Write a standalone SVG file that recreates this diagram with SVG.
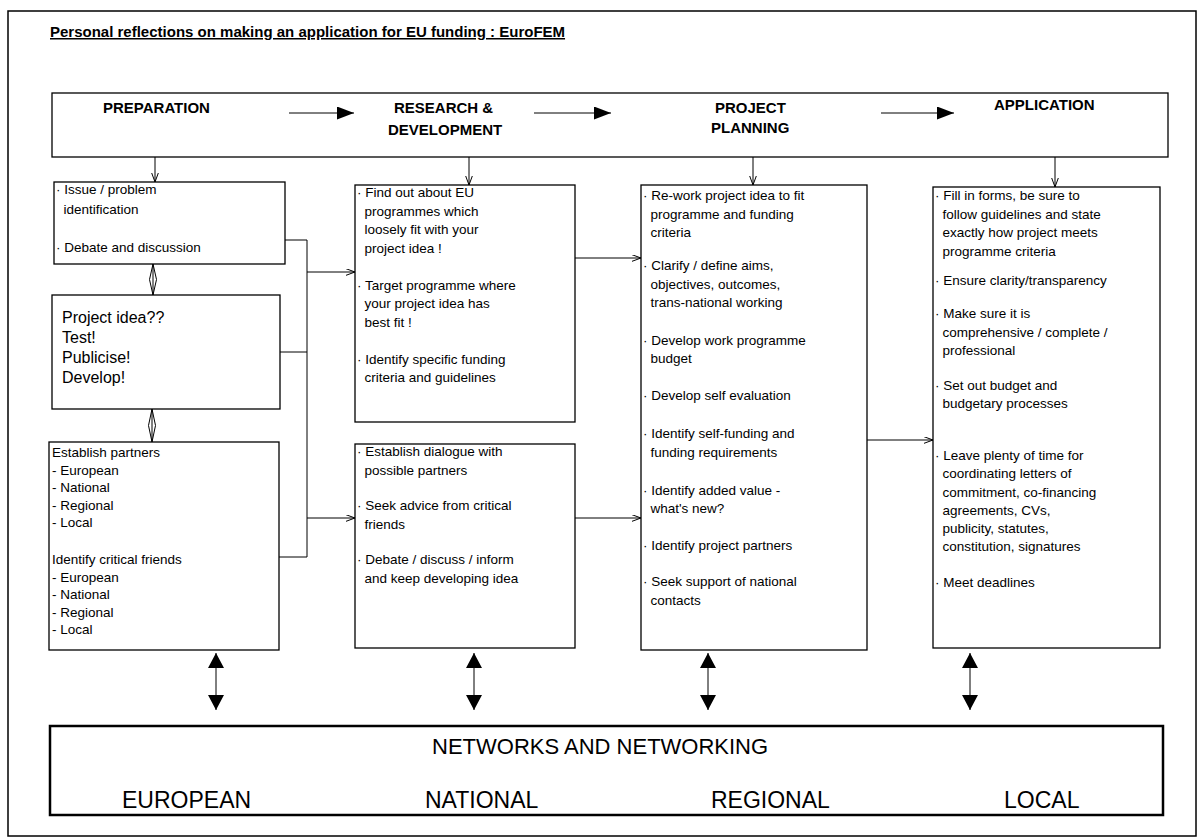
<svg xmlns="http://www.w3.org/2000/svg" width="1204" height="839" viewBox="0 0 1204 839">
<defs>
<style>
.box{fill:none;stroke:#000;stroke-width:1.3}
.t{font-family:"Liberation Sans",Arial,sans-serif;font-size:13.5px;fill:#000}
.big{font-size:16px}
.h{font-family:"Liberation Sans",Arial,sans-serif;font-size:15px;font-weight:bold;fill:#000}
.net{font-family:"Liberation Sans",Arial,sans-serif;font-size:23px;fill:#000}
.ln{stroke:#000;stroke-width:1;fill:none}
</style>
<marker id="tri" markerUnits="userSpaceOnUse" markerWidth="17" markerHeight="13" refX="17" refY="6.5" orient="auto"><path d="M0,0 L17,6.5 L0,13 z" fill="#000"/></marker>
<marker id="tri2" markerUnits="userSpaceOnUse" markerWidth="15" markerHeight="16" refX="15" refY="8" orient="auto-start-reverse"><path d="M0,0 L15,8 L0,16 z" fill="#000"/></marker>
<marker id="open" markerUnits="userSpaceOnUse" markerWidth="10" markerHeight="8" refX="9.5" refY="3.5" orient="auto"><path d="M0,0 L9.5,3.5 L0,7" fill="none" stroke="#000" stroke-width="1"/></marker>
</defs>
<rect x="8" y="11" width="1188" height="825" fill="#fff" stroke="#000" stroke-width="1.5"/>
<text id="title" class="t" x="50" y="37" style="font-size:15px;font-weight:bold;text-decoration:underline">Personal reflections on making an application for EU funding : EuroFEM</text>

<g id="header">
<rect class="box" x="52" y="93" width="1116" height="64"/>
<text class="h" x="103" y="113">PREPARATION</text>
<text class="h" x="394" y="113">RESEARCH &amp;</text>
<text class="h" x="388" y="135">DEVELOPMENT</text>
<text class="h" x="715" y="113">PROJECT</text>
<text class="h" x="711" y="133">PLANNING</text>
<text class="h" x="994" y="110">APPLICATION</text>
</g>

<g id="boxA">
<rect class="box" x="54" y="182" width="231" height="82"/>
<text class="t"><tspan x="56" y="194">· Issue / problem</tspan><tspan x="63.5" y="214">identification</tspan><tspan x="56" y="252">· Debate and discussion</tspan></text>
</g>
<g id="boxB">
<rect class="box" x="52" y="295" width="228" height="114"/>
<text class="t big"><tspan x="62" y="323">Project idea??</tspan><tspan x="62" y="343">Test!</tspan><tspan x="62" y="363">Publicise!</tspan><tspan x="62" y="383">Develop!</tspan></text>
</g>
<g id="boxC">
<rect class="box" x="49" y="442" width="230" height="208"/>
<text class="t"><tspan x="52" y="457">Establish partners</tspan><tspan x="52" y="474.5">- European</tspan><tspan x="52" y="492">- National</tspan><tspan x="52" y="509.5">- Regional</tspan><tspan x="52" y="527">- Local</tspan><tspan x="52" y="564">Identify critical friends</tspan><tspan x="52" y="581.5">- European</tspan><tspan x="52" y="599">- National</tspan><tspan x="52" y="616.5">- Regional</tspan><tspan x="52" y="634">- Local</tspan></text>
</g>
<g id="boxD">
<rect class="box" x="355" y="185" width="220" height="237"/>
<text class="t"><tspan x="357" y="197">· Find out about EU</tspan><tspan x="364.5" y="215.5">programmes which</tspan><tspan x="364.5" y="234">loosely fit with your</tspan><tspan x="364.5" y="252.5">project idea !</tspan><tspan x="357" y="289.5">· Target programme where</tspan><tspan x="364.5" y="308">your project idea has</tspan><tspan x="364.5" y="326.5">best fit !</tspan><tspan x="357" y="363.5">· Identify specific funding</tspan><tspan x="364.5" y="382">criteria and guidelines</tspan></text>
</g>
<g id="boxE">
<rect class="box" x="355" y="444" width="220" height="204"/>
<text class="t"><tspan x="357" y="456">· Establish dialogue with</tspan><tspan x="364.5" y="475">possible partners</tspan><tspan x="357" y="510">· Seek advice from critical</tspan><tspan x="364.5" y="529">friends</tspan><tspan x="357" y="564">· Debate / discuss / inform</tspan><tspan x="364.5" y="583">and keep developing idea</tspan></text>
</g>
<g id="boxF">
<rect class="box" x="641" y="185" width="226" height="465"/>
<text class="t"><tspan x="643" y="200">· Re-work project idea to fit</tspan><tspan x="650.5" y="218.5">programme and funding</tspan><tspan x="650.5" y="237">criteria</tspan><tspan x="643" y="270">· Clarify / define aims,</tspan><tspan x="650.5" y="288.5">objectives, outcomes,</tspan><tspan x="650.5" y="307">trans-national working</tspan><tspan x="643" y="345">· Develop work programme</tspan><tspan x="650.5" y="363">budget</tspan><tspan x="643" y="400">· Develop self evaluation</tspan><tspan x="643" y="438">· Identify self-funding and</tspan><tspan x="650.5" y="457">funding requirements</tspan><tspan x="643" y="495">· Identify added value -</tspan><tspan x="650.5" y="513">what's new?</tspan><tspan x="643" y="550">· Identify project partners</tspan><tspan x="643" y="586">· Seek support of national</tspan><tspan x="650.5" y="605">contacts</tspan></text>
</g>
<g id="boxG">
<rect class="box" x="933" y="187" width="227" height="461"/>
<text class="t"><tspan x="935" y="200">· Fill in forms, be sure to</tspan><tspan x="942.5" y="219">follow guidelines and state</tspan><tspan x="942.5" y="237">exactly how project meets</tspan><tspan x="942.5" y="256">programme criteria</tspan><tspan x="935" y="285">· Ensure clarity/transparency</tspan><tspan x="935" y="318">· Make sure it is</tspan><tspan x="942.5" y="337">comprehensive / complete /</tspan><tspan x="942.5" y="355">professional</tspan><tspan x="935" y="390">· Set out budget and</tspan><tspan x="942.5" y="408">budgetary processes</tspan><tspan x="935" y="460">· Leave plenty of time for</tspan><tspan x="942.5" y="478">coordinating letters of</tspan><tspan x="942.5" y="497">commitment, co-financing</tspan><tspan x="942.5" y="515">agreements, CVs,</tspan><tspan x="942.5" y="533">publicity, statutes,</tspan><tspan x="942.5" y="551">constitution, signatures</tspan><tspan x="935" y="587">· Meet deadlines</tspan></text>
</g>
<g id="networks">
<rect x="50" y="726" width="1113" height="89" fill="none" stroke="#000" stroke-width="2.5"/>
<text class="net" x="432" y="754" style="font-size:22px">NETWORKS AND NETWORKING</text>
<text class="net" x="122" y="808">EUROPEAN</text>
<text class="net" x="425" y="808">NATIONAL</text>
<text class="net" x="711" y="808">REGIONAL</text>
<text class="net" x="1004" y="808">LOCAL</text>
</g>

<g id="connectors">
<line class="ln" x1="289" y1="113" x2="354" y2="113" marker-end="url(#tri)"/>
<line class="ln" x1="534" y1="113" x2="611" y2="113" marker-end="url(#tri)"/>
<line class="ln" x1="881" y1="113" x2="954" y2="113" marker-end="url(#tri)"/>
<line class="ln" x1="155" y1="157" x2="155" y2="182" marker-end="url(#open)"/>
<line class="ln" x1="469" y1="157" x2="469" y2="185" marker-end="url(#open)"/>
<line class="ln" x1="753" y1="157" x2="753" y2="185" marker-end="url(#open)"/>
<line class="ln" x1="1055" y1="157" x2="1055" y2="187" marker-end="url(#open)"/>
<path class="ln" d="M153,264 L153,295 M153,264 L149.5,279.5 L153,295 L156.5,279.5 Z"/>
<path class="ln" d="M152,409 L152,442 M152,409 L148.5,425.5 L152,442 L155.5,425.5 Z"/>
<path class="ln" d="M285,240 H307 V557 H279 M280,352 H307"/>
<line class="ln" x1="307" y1="272" x2="355" y2="272" marker-end="url(#open)"/>
<line class="ln" x1="307" y1="518" x2="355" y2="518" marker-end="url(#open)"/>
<line class="ln" x1="575" y1="258" x2="641" y2="258" marker-end="url(#open)"/>
<line class="ln" x1="575" y1="518" x2="641" y2="518" marker-end="url(#open)"/>
<line class="ln" x1="867" y1="440" x2="933" y2="440" marker-end="url(#open)"/>
<line class="ln" x1="216" y1="653" x2="216" y2="710" marker-start="url(#tri2)" marker-end="url(#tri2)"/>
<line class="ln" x1="474" y1="653" x2="474" y2="710" marker-start="url(#tri2)" marker-end="url(#tri2)"/>
<line class="ln" x1="708" y1="653" x2="708" y2="710" marker-start="url(#tri2)" marker-end="url(#tri2)"/>
<line class="ln" x1="970" y1="653" x2="970" y2="710" marker-start="url(#tri2)" marker-end="url(#tri2)"/>
</g>
</svg>
